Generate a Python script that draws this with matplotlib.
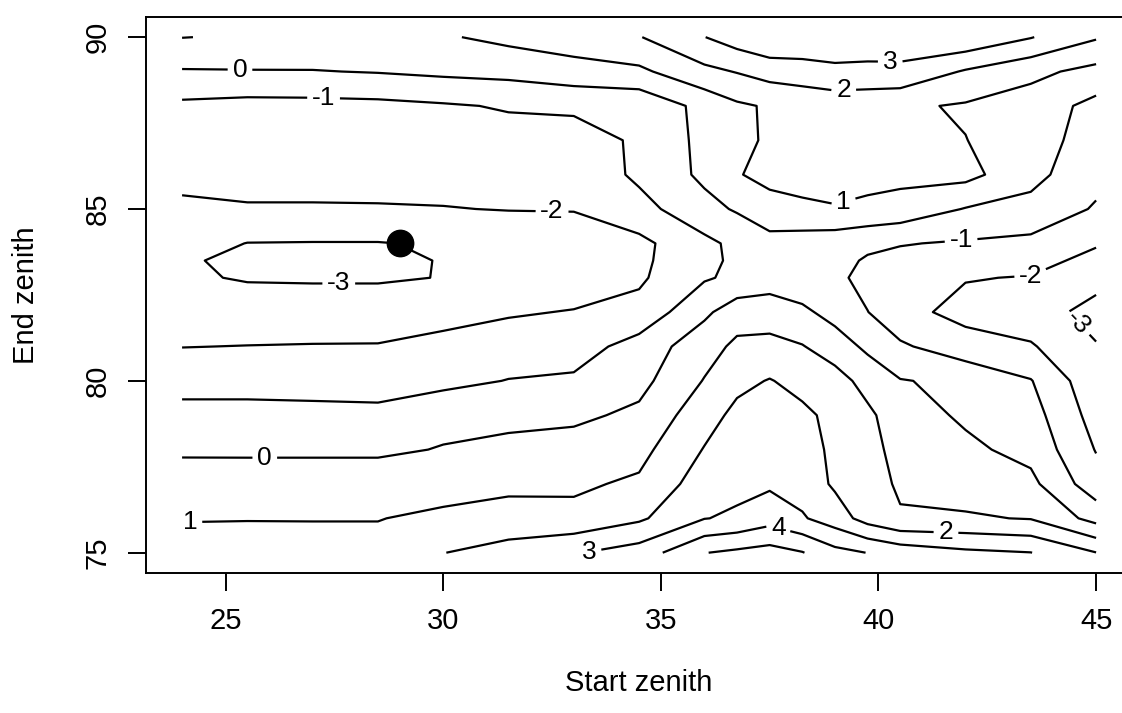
import numpy as np
import matplotlib
matplotlib.use("Agg")
import matplotlib.pyplot as plt

plt.rcParams['font.family'] = ['Liberation Sans', 'DejaVu Sans']

# grid of start / end zenith angles (degrees)
start_zenith = [24, 25.5, 27, 28.5, 30, 31.5, 33, 34.5, 36, 36.75, 37.5, 38.25,
                39, 39.75, 40.5, 42, 43.5, 45]
end_zenith = [75, 76, 77, 78, 79, 80, 81, 82, 83, 83.5, 84, 85, 86, 87, 88, 89, 90]

# fitted surface, one row per end zenith (75 first)
surface = [
    [1.4, 1.35, 1.3, 1.3, 1.98, 2.4, 2.92, 3.45, 4.97, 5.2, 5.4, 5.05, 4.3, 3.98, 3.6, 3.2, 3.02, 2.02],                  # 75
    [0.95, 0.97, 0.97, 0.97, 1.2, 1.35, 1.25, 1.84, 2.97, 3.15, 3.6, 3.1, 2.5, 1.6, 1.07, 1.1, 0.95, -0.35],             # 76
    [0.67, 0.65, 0.65, 0.65, 0.6, 0.8, 0.85, 1.15, 2.5, 2.75, 2.85, 2.6, 1.85, 1.3, 0.9, 0.6, 0.25, -1.6],               # 77
    [-0.2, -0.2, -0.2, -0.2, 0.06, 0.28, 0.4, 0.7, 2.05, 2.5, 2.55, 2.4, 1.8, 1.3, 0.7, 0.2, -0.3, -2.05],               # 78
    [-0.7, -0.7, -0.75, -0.78, -0.35, -0.3, -0.2, 0.2, 1.6, 2.25, 2.45, 2.2, 1.75, 1.2, 0.45, -0.15, -0.6, -2.4],        # 79
    [-1.35, -1.35, -1.35, -1.38, -1.25, -0.97, -0.85, -0.3, 1.05, 1.75, 2.05, 1.7, 1.4, 0.65, 0.05, -0.2, -0.95, -2.7],  # 80
    [-2.02, -1.98, -1.95, -1.94, -1.75, -1.5, -1.45, -0.6, 0.6, 1.2, 1.3, 1.05, 0.5, -0.2, -0.85, -1.6, -1.9, -2.95],    # 81
    [-2.55, -2.6, -2.6, -2.6, -2.3, -2.1, -1.95, -1.7, -0.2, 0.55, 0.5, 0.2, -0.35, -0.98, -1.7, -2.3, -2.6, -3.3],      # 82
    [-2.9, -3.06, -3.08, -3.08, -2.98, -2.75, -2.55, -2.15, -1.1, -0.8, -0.45, -0.65, -0.75, -1.35, -1.55, -1.95, -2.05, -2.7],   # 83
    [-2.92, -3.15, -3.2, -3.15, -2.97, -2.7, -2.47, -2.22, -1.2, -0.85, -0.42, -0.62, -0.72, -1.1, -1.25, -1.55, -1.65, -2.3],    # 83.5
    [-2.6, -3.02, -3.04, -3.04, -2.9, -2.6, -2.35, -2.25, -1.25, -0.75, -0.3, -0.5, -0.6, -0.8, -0.95, -1.1, -1.25, -1.9],        # 84
    [-2.12, -2.06, -2.06, -2.05, -2.03, -1.97, -1.97, -1.35, -0.3, 0.1, 0.55, 0.85, 0.95, 0.8, 0.65, -0.05, -0.3, -1.1],          # 85
    [-1.82, -1.75, -1.75, -1.75, -1.7, -1.65, -1.75, -0.8, 0.2, 0.92, 1.35, 1.3, 1.3, 1.3, 1.25, 1.3, 0.3, -0.7],                 # 86
    [-1.51, -1.5, -1.5, -1.5, -1.4, -1.35, -1.6, -0.8, 0.25, 0.85, 1.08, 1.25, 1.35, 1.3, 1.2, 1.02, 0.45, -0.45],                # 87
    [-1.2, -1.32, -1.3, -1.25, -1.1, -0.92, -0.75, -0.75, 0.3, 0.85, 1.1, 1.2, 1.35, 1.3, 1.15, 0.9, 0.55, -0.3],                 # 88
    [-0.08, -0.05, -0.04, 0.05, 0.2, 0.3, 0.55, 0.8, 1.75, 2.05, 2.4, 2.6, 2.8, 2.75, 2.8, 1.9, 1.25, 0.7],                      # 89
    [1.02, 0.9, 0.8, 0.8, 0.9, 1.25, 1.6, 1.95, 2.98, 3.5, 3.9, 3.7, 3.6, 3.6, 3.5, 3.8, 3.05, 2.1],                             # 90
]

contour_levels = list(range(-3, 6))

# best (lowest) combination
best_start = 29
best_end = 84

# where each contour gets its number
label_spots = [
    (25.33, 89.02), (27.25, 88.2), (32.5, 84.9), (27.6, 82.9),
    (25.9, 77.8), (24.18, 75.9), (33.35, 75.05), (37.7, 75.72),
    (41.55, 75.55), (41.9, 84.05), (43.5, 83.05), (44.6, 81.7),
    (39.2, 85.2), (39.2, 88.5), (40.27, 89.25),
]

fig = plt.figure(figsize=(11.22, 7.13), dpi=100)
ax = fig.add_axes([0.1297, 0.1959, 0.8798, 0.7809])

cs = ax.contour(start_zenith, end_zenith, np.array(surface), levels=contour_levels,
                colors='black', linewidths=1.6, linestyles='solid')
labels = ax.clabel(cs, inline=True, fmt='%d', fontsize=19, manual=label_spots,
                   inline_spacing=6)
for t in labels:
    x, y = t.get_position()
    if x < 44:
        t.set_rotation(0)

ax.plot(best_start, best_end, 'o', color='black', markersize=19)

ax.set_xlim(23.16, 45.84)
ax.set_ylim(74.4, 90.6)
ax.set_xticks([25, 30, 35, 40, 45])
ax.set_yticks([75, 80, 85, 90])
ax.tick_params(length=13, width=1.4, labelsize=21, pad=11.5)
ax.tick_params(axis='y', labelrotation=90)
for lab in ax.get_yticklabels():
    lab.set_va('center')
for sp in ax.spines.values():
    sp.set_linewidth(1.4)

ax.set_xlabel('Start zenith', fontsize=21, va='center')
ax.xaxis.set_label_coords(0.5, -0.197)
ax.set_ylabel('End zenith', fontsize=21, va='center')
ax.yaxis.set_label_coords(-0.121, 0.5)

fig.savefig('out.png', dpi=100)
